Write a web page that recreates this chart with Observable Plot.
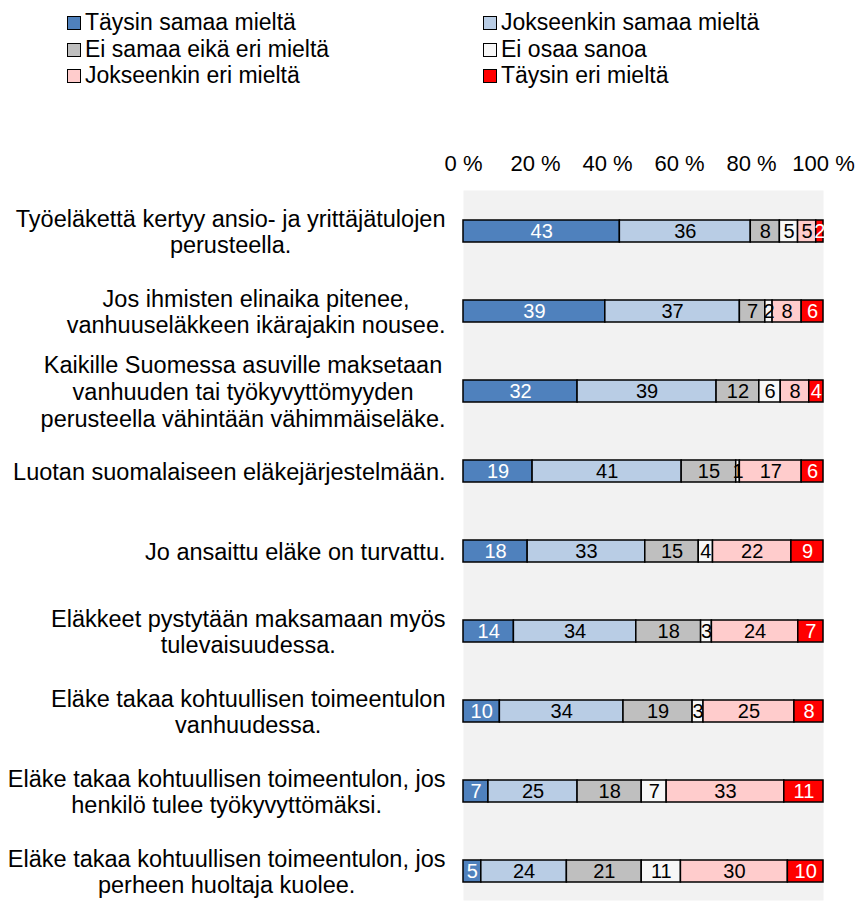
<!DOCTYPE html>
<html>
<head>
<meta charset="utf-8">
<script src="https://cdn.jsdelivr.net/npm/d3@7"></script>
<script src="https://cdn.jsdelivr.net/npm/@observablehq/plot@0.6"></script>
<style>
  body { margin: 0; background: #fff; font-family: "Liberation Sans", Arial, sans-serif; }
  #legend { position: relative; width: 857px; height: 100px; box-sizing: border-box;
            padding: 9px 0 0 67px; display: grid; grid-template-columns: 416px auto;
            grid-auto-rows: 26.7px; }
  .item { font-size: 23px; line-height: 27px; color: #000; white-space: nowrap; }
  .sw { display: inline-block; width: 12px; height: 12px; border: 1.5px solid #000;
        margin-right: 4px; vertical-align: baseline; }
  #chart svg { display: block; }
</style>
</head>
<body>
<div id="legend"></div>
<div id="chart"></div>
<script>
// ---- data ----
const categories = [
  "Täysin samaa mieltä",
  "Jokseenkin samaa mieltä",
  "Ei samaa eikä eri mieltä",
  "Ei osaa sanoa",
  "Jokseenkin eri mieltä",
  "Täysin eri mieltä"
];
const colors = ["#4f81bd", "#b9cde5", "#bfbfbf", "#f7f7f7", "#ffcccc", "#ff0000"];
const questions = [
  "Työeläkettä kertyy ansio- ja yrittäjätulojen\nperusteella.",
  "Jos ihmisten elinaika pitenee,\nvanhuuseläkkeen ikärajakin nousee.",
  "Kaikille Suomessa asuville maksetaan\nvanhuuden tai työkyvyttömyyden\nperusteella vähintään vähimmäiseläke.",
  "Luotan suomalaiseen eläkejärjestelmään.",
  "Jo ansaittu eläke on turvattu.",
  "Eläkkeet pystytään maksamaan myös\ntulevaisuudessa.",
  "Eläke takaa kohtuullisen toimeentulon\nvanhuudessa.",
  "Eläke takaa kohtuullisen toimeentulon, jos\nhenkilö tulee työkyvyttömäksi.",
  "Eläke takaa kohtuullisen toimeentulon, jos\nperheen huoltaja kuolee."
];
const taysinSamaa     = [43, 39, 32, 19, 18, 14, 10, 7, 5];
const jokseenkinSamaa = [36, 37, 39, 41, 33, 34, 34, 25, 24];
const eiSamaaEikaEri  = [8, 7, 12, 15, 15, 18, 19, 18, 21];
const eiOsaaSanoa     = [5, 2, 6, 1, 4, 3, 3, 7, 11];
const jokseenkinEri   = [5, 8, 8, 17, 22, 24, 25, 33, 30];
const taysinEri       = [2, 6, 4, 6, 9, 7, 8, 11, 10];
const xTicks = [0, 0.2, 0.4, 0.6, 0.8, 1];

const series = [taysinSamaa, jokseenkinSamaa, eiSamaaEikaEri, eiOsaaSanoa, jokseenkinEri, taysinEri];
const rows = [];
questions.forEach((q, i) => categories.forEach((c, j) => rows.push({q, cat: c, value: series[j][i]})));

// ---- legend ----
const legend = document.getElementById("legend");
categories.forEach((c, i) => {
  const it = document.createElement("div");
  it.className = "item";
  it.innerHTML = `<span class="sw" style="background:${colors[i]}"></span>${c}`;
  legend.appendChild(it);
});

// ---- label measurement ----
const ctx = document.createElement("canvas").getContext("2d");
const labelFont = 23.5;
ctx.font = `${labelFont}px "Liberation Sans", Arial, sans-serif`;
const labelMarks = questions.map(q => {
  const w = d3.max(q.split("\n"), l => ctx.measureText(l).width);
  return Plot.text([q], {
    y: d => d, text: d => d, frameAnchor: "left", textAnchor: "middle",
    dx: -(18 + w / 2), dy: 0, fontSize: labelFont, lineHeight: 1.14, fill: "#000"
  });
});

const whiteText = new Set([categories[0], categories[5]]);

const chart = Plot.plot({
  width: 857,
  height: 806,
  marginTop: 90,
  marginBottom: 6,
  marginLeft: 463,
  marginRight: 34,
  style: { fontFamily: '"Liberation Sans", Arial, sans-serif', fontSize: "22px", color: "#000", background: "#fff" },
  x: { domain: [0, 1], axis: "top", ticks: xTicks, tickFormat: d => `${Math.round(d * 100)} %`,
       tickSize: 0, tickPadding: 20, label: null },
  y: { domain: questions, axis: null, range: [90, 812.4], paddingInner: 0.73, paddingOuter: 0.365 },
  color: { domain: categories, range: colors },
  marks: [
    Plot.frame({ fill: "#f2f2f2", stroke: null }),
    Plot.barX(rows, Plot.stackX({ x: "value", y: "q", z: "cat", fill: "cat", offset: "normalize",
      stroke: "#000", strokeWidth: 1.5 })),
    Plot.text(rows, Plot.stackX({ x: "value", y: "q", z: "cat", offset: "normalize",
      text: d => String(d.value), fill: d => whiteText.has(d.cat) ? "#fff" : "#000",
      fontSize: 20 })),
    ...labelMarks
  ]
});
document.getElementById("chart").appendChild(chart);
</script>
</body>
</html>
